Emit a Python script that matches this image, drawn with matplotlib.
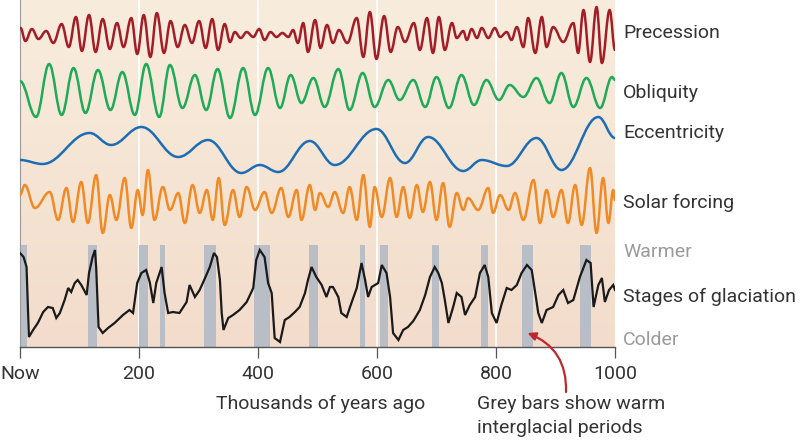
import numpy as np
import matplotlib
matplotlib.use('Agg')
from matplotlib import pyplot as plt
from matplotlib.path import Path
from matplotlib.patches import PathPatch

plt.rcParams['font.family'] = ['Roboto', 'DejaVu Sans']

# thousands of years ago / relative value (peaks and troughs)
prec_t = [1, 9, 20, 31, 44, 56, 70, 82, 94, 104, 116, 127, 139, 151, 163, 174, 187, 197,
          208, 219, 230, 242, 253, 265, 277, 289, 301, 312, 323, 333, 344, 353, 361, 371,
          381, 392, 402, 411, 421, 431, 441, 451, 459, 467, 476, 484, 496, 505, 516, 526,
          536, 550, 566, 577, 588, 599, 612, 623, 635, 647, 662, 672, 684, 694, 704, 714,
          726, 734, 745, 751, 759, 768, 776, 787, 798, 807, 818, 826, 835, 846, 854, 866,
          877, 885, 896, 913, 930, 938, 947, 958, 969, 978, 991, 1000]
prec_v = [7, -6, 6, -4, 4, -8, 11, -12, 18, -16, 20, -17, 16, -14, 12, -12, 17, -19,
          20, -22, 22, -18, 14, -12, 10, -8, 14, -13, 16, -15, 11, -7, 3, -3,
          3, -2, 6, -5, 3, -2, 2, -2, 5, -8, 12, -17, 15, -13, 10, -8,
          5, -8, 17, -22, 23, -24, 19, -17, 8, -7, 12, -15, 17, -18, 18, -15,
          12, -3, 4, -5, 6, -3, 7, -3, 7, -2, 3, -5, 8, -12, 17, -18,
          18, -12, 8, -7, 12, -18, 25, -27, 28, -28, 25, -15]

obl_t = [0, 27, 49, 70, 90, 110, 131, 152, 172, 193, 212, 234, 252, 273, 294, 313, 332,
         353, 375, 395, 417, 437, 455, 473, 493, 512, 535, 554, 576, 596, 619, 638, 661,
         681, 700, 721, 742, 763, 784, 805, 823, 846, 868, 890, 910, 930, 952, 975, 995, 1000]
obl_v = [10, -26, 27, -24, 23, -22, 21, -19, 19, -24, 27, -26, 26, -17, 16, -19, 22,
         -27, 23, -24, 23, -17, 16, -12, 13, -16, 22, -19, 18, -16, 11, -9, 11,
         -16, 14, -17, 16, -14, 11, -9, 6, -6, 13, -12, 18, -16, 13, -17, 14, 11]

ecc_t = [0, 38, 117, 153, 204, 266, 316, 372, 403, 434, 487, 529, 599, 647, 686, 745,
         776, 818, 868, 910, 972, 1000]
ecc_v = [-12, -16, 15, 3, 21, -9, 8, -25, -17, -24, 7, -17, 19, -15, 11, -23,
         -12, -18, 10, -22, 31, 10]

sol_t = [0, 8, 25, 50, 64, 78, 89, 103, 114, 128, 139, 151, 162, 176, 187, 198, 206, 215,
         226, 240, 252, 266, 277, 290, 302, 314, 324, 334, 344, 358, 369, 381, 395, 411,
         423, 439, 451, 465, 473, 487, 496, 504, 518, 529, 543, 554, 566, 577, 588, 596,
         608, 622, 633, 644, 655, 667, 677, 689, 700, 711, 722, 734, 745, 753, 770, 787,
         795, 807, 821, 832, 846, 863, 874, 885, 896, 910, 921, 933, 944, 958, 969, 980,
         989, 997, 1000]
sol_v = [10, 20, -3, 13, -15, 17, -17, 23, -18, 30, -28, 10, -15, 27, -23, 15, -10, 35,
         -15, 18, -5, 12, -18, 20, -8, 15, -15, 27, -20, 15, -12, 18, -5, 13,
         -8, 17, -12, 15, -15, 20, -5, 12, -2, 13, -8, 18, -15, 30, -22, 18,
         -12, 27, -12, 18, -13, 20, -7, 23, -15, 22, -22, 12, -5, 7, -5, 17,
         -8, 10, -5, 12, -15, 25, -18, 15, -12, 15, -18, 20, -20, 37, -28, 27,
         -18, 15, 5]

glac_t = [0, 6, 11, 15, 22, 30, 39, 47, 55, 61, 67, 75, 81, 86, 92, 97, 103, 112, 116,
          122, 126, 128, 132, 139, 148, 159, 173, 184, 190, 197, 204, 212, 218, 224, 229,
          238, 243, 249, 257, 268, 280, 285, 294, 302, 311, 319, 326, 331, 336, 339, 342,
          350, 358, 369, 381, 392, 397, 403, 411, 417, 423, 428, 437, 445, 453, 462, 470,
          479, 484, 490, 498, 507, 515, 521, 526, 535, 540, 549, 557, 566, 574, 580, 585,
          591, 602, 608, 616, 622, 627, 636, 644, 652, 661, 672, 681, 689, 697, 703, 709,
          714, 720, 728, 734, 742, 748, 756, 765, 773, 781, 787, 793, 801, 809, 818, 826,
          835, 843, 852, 860, 866, 871, 877, 885, 896, 905, 913, 921, 930, 941, 952, 959,
          964, 972, 978, 983, 990, 997, 1000]
glac_v = [47, 43, 33, -37, -30, -23, -12, -7, -8, -18, -13, 0, 12, 8, 17, 20, 15, 5, 27,
          43, 50, 33, -27, -33, -28, -23, -15, -10, -13, 17, 27, 30, 18, -3, 17,
          33, 7, -13, -12, -13, -2, 15, 3, 10, 22, 33, 47, 43, 20, -13, -30,
          -18, -15, -10, -2, 12, 40, 50, 43, 17, 7, -38, -42, -20, -17, -12, -7,
          7, 20, 33, 23, 15, 3, 13, 13, 3, -13, -17, -3, 12, 37, 20, 3,
          13, 17, 35, 27, 3, -33, -40, -30, -27, -21, -10, 5, 23, 33, 27, 17,
          0, -23, -7, 7, 3, -15, -5, 3, 27, 35, 23, -13, -23, -5, 12, 10,
          15, 27, 35, 30, 7, -13, -23, -10, -7, 5, 10, -3, 0, 23, 40, 37,
          -7, 15, 22, -2, 10, 15, 10]

# warm interglacial periods (start, end), thousands of years ago
warm_start = [0, 114, 200, 236, 310, 394, 485, 571, 605, 692, 775, 844, 941]
warm_end = [11, 129, 215, 243, 330, 420, 500, 580, 618, 704, 786, 862, 960]

ticks = [0, 200, 400, 600, 800, 1000]
tick_labels = ['Now', '200', '400', '600', '800', '1000']


fig = plt.figure(figsize=(8, 4.48), dpi=100)
ax = fig.add_axes([20 / 800, 1 - 347 / 448, 595 / 800, 347 / 448])
ax.set_xlim(0, 1000)
ax.set_ylim(0, 347)

# soft peach background
grad = np.linspace(0, 1, 256).reshape(-1, 1)
top = np.array([248, 237, 221]) / 255
bot = np.array([243, 220, 203]) / 255
bg = top + (bot - top) * grad[:, :, None]
ax.imshow(bg, extent=(0, 1000, 0, 347), aspect='auto', origin='upper', zorder=0)

for x in ticks[1:-1]:
    ax.axvline(x, color='white', lw=1.3, zorder=1)

for s, e in zip(warm_start, warm_end):
    ax.axvspan(s, e, ymin=0, ymax=102 / 347, color='#b8bdc6', lw=0, zorder=2)


def wave(t, v, base, color):
    # smooth curve through the peaks and troughs
    pts = [(t[0], base + v[0])]
    codes = [Path.MOVETO]
    for i in range(1, len(t)):
        d = (t[i] - t[i - 1]) * 0.38
        pts += [(t[i - 1] + d, base + v[i - 1]), (t[i] - d, base + v[i]), (t[i], base + v[i])]
        codes += [Path.CURVE4] * 3
    ax.add_patch(PathPatch(Path(pts, codes), fill=False, ec=color, lw=1.8,
                           capstyle='round', joinstyle='round', zorder=3))


wave(prec_t, prec_v, 312, '#a31d27')
wave(obl_t, obl_v, 256, '#1faa58')
wave(ecc_t, ecc_v, 199, '#1c6db3')
wave(sol_t, sol_v, 142, '#f08a24')
ax.plot(glac_t, 47 + np.array(glac_v), color='#1a1a1a', lw=1.6, zorder=3,
        solid_joinstyle='miter')

for side in ['top', 'right']:
    ax.spines[side].set_visible(False)
ax.spines['left'].set_color('#9a9a9a')
ax.spines['left'].set_linewidth(0.8)
ax.spines['bottom'].set_color('#555555')
ax.spines['bottom'].set_linewidth(1.0)
ax.set_yticks([])
ax.set_xticks(ticks)
ax.set_xticklabels(tick_labels, fontsize=14, color='#333333')
ax.tick_params(axis='x', direction='out', length=8, width=0.9, color='#555555', pad=5)

labels = [('Precession', 33, '#333333'), ('Obliquity', 93, '#333333'),
          ('Eccentricity', 133, '#333333'), ('Solar forcing', 203, '#333333'),
          ('Warmer', 252, '#9a9a9a'), ('Stages of glaciation', 297, '#333333'),
          ('Colder', 340, '#9a9a9a')]
for txt, y, c in labels:
    fig.text(623 / 800, 1 - y / 448, txt, fontsize=14, color=c, va='center', ha='left')

fig.text(321 / 800, 1 - 404 / 448, 'Thousands of years ago', fontsize=14, color='#333333',
         ha='center', va='center')
fig.text(477 / 800, 1 - 404 / 448, 'Grey bars show warm', fontsize=14, color='#333333',
         ha='left', va='center')
fig.text(477 / 800, 1 - 428 / 448, 'interglacial periods', fontsize=14, color='#333333',
         ha='left', va='center')

ax.annotate('', xy=(853, 14), xycoords='data', xytext=(566, 448 - 392),
            textcoords='figure pixels',
            arrowprops=dict(arrowstyle='-|>', color='#c0272d', lw=1.6, mutation_scale=12,
                            connectionstyle='arc3,rad=0.35', shrinkA=0, shrinkB=0),
            annotation_clip=False)

fig.savefig('out.png', dpi=100)
